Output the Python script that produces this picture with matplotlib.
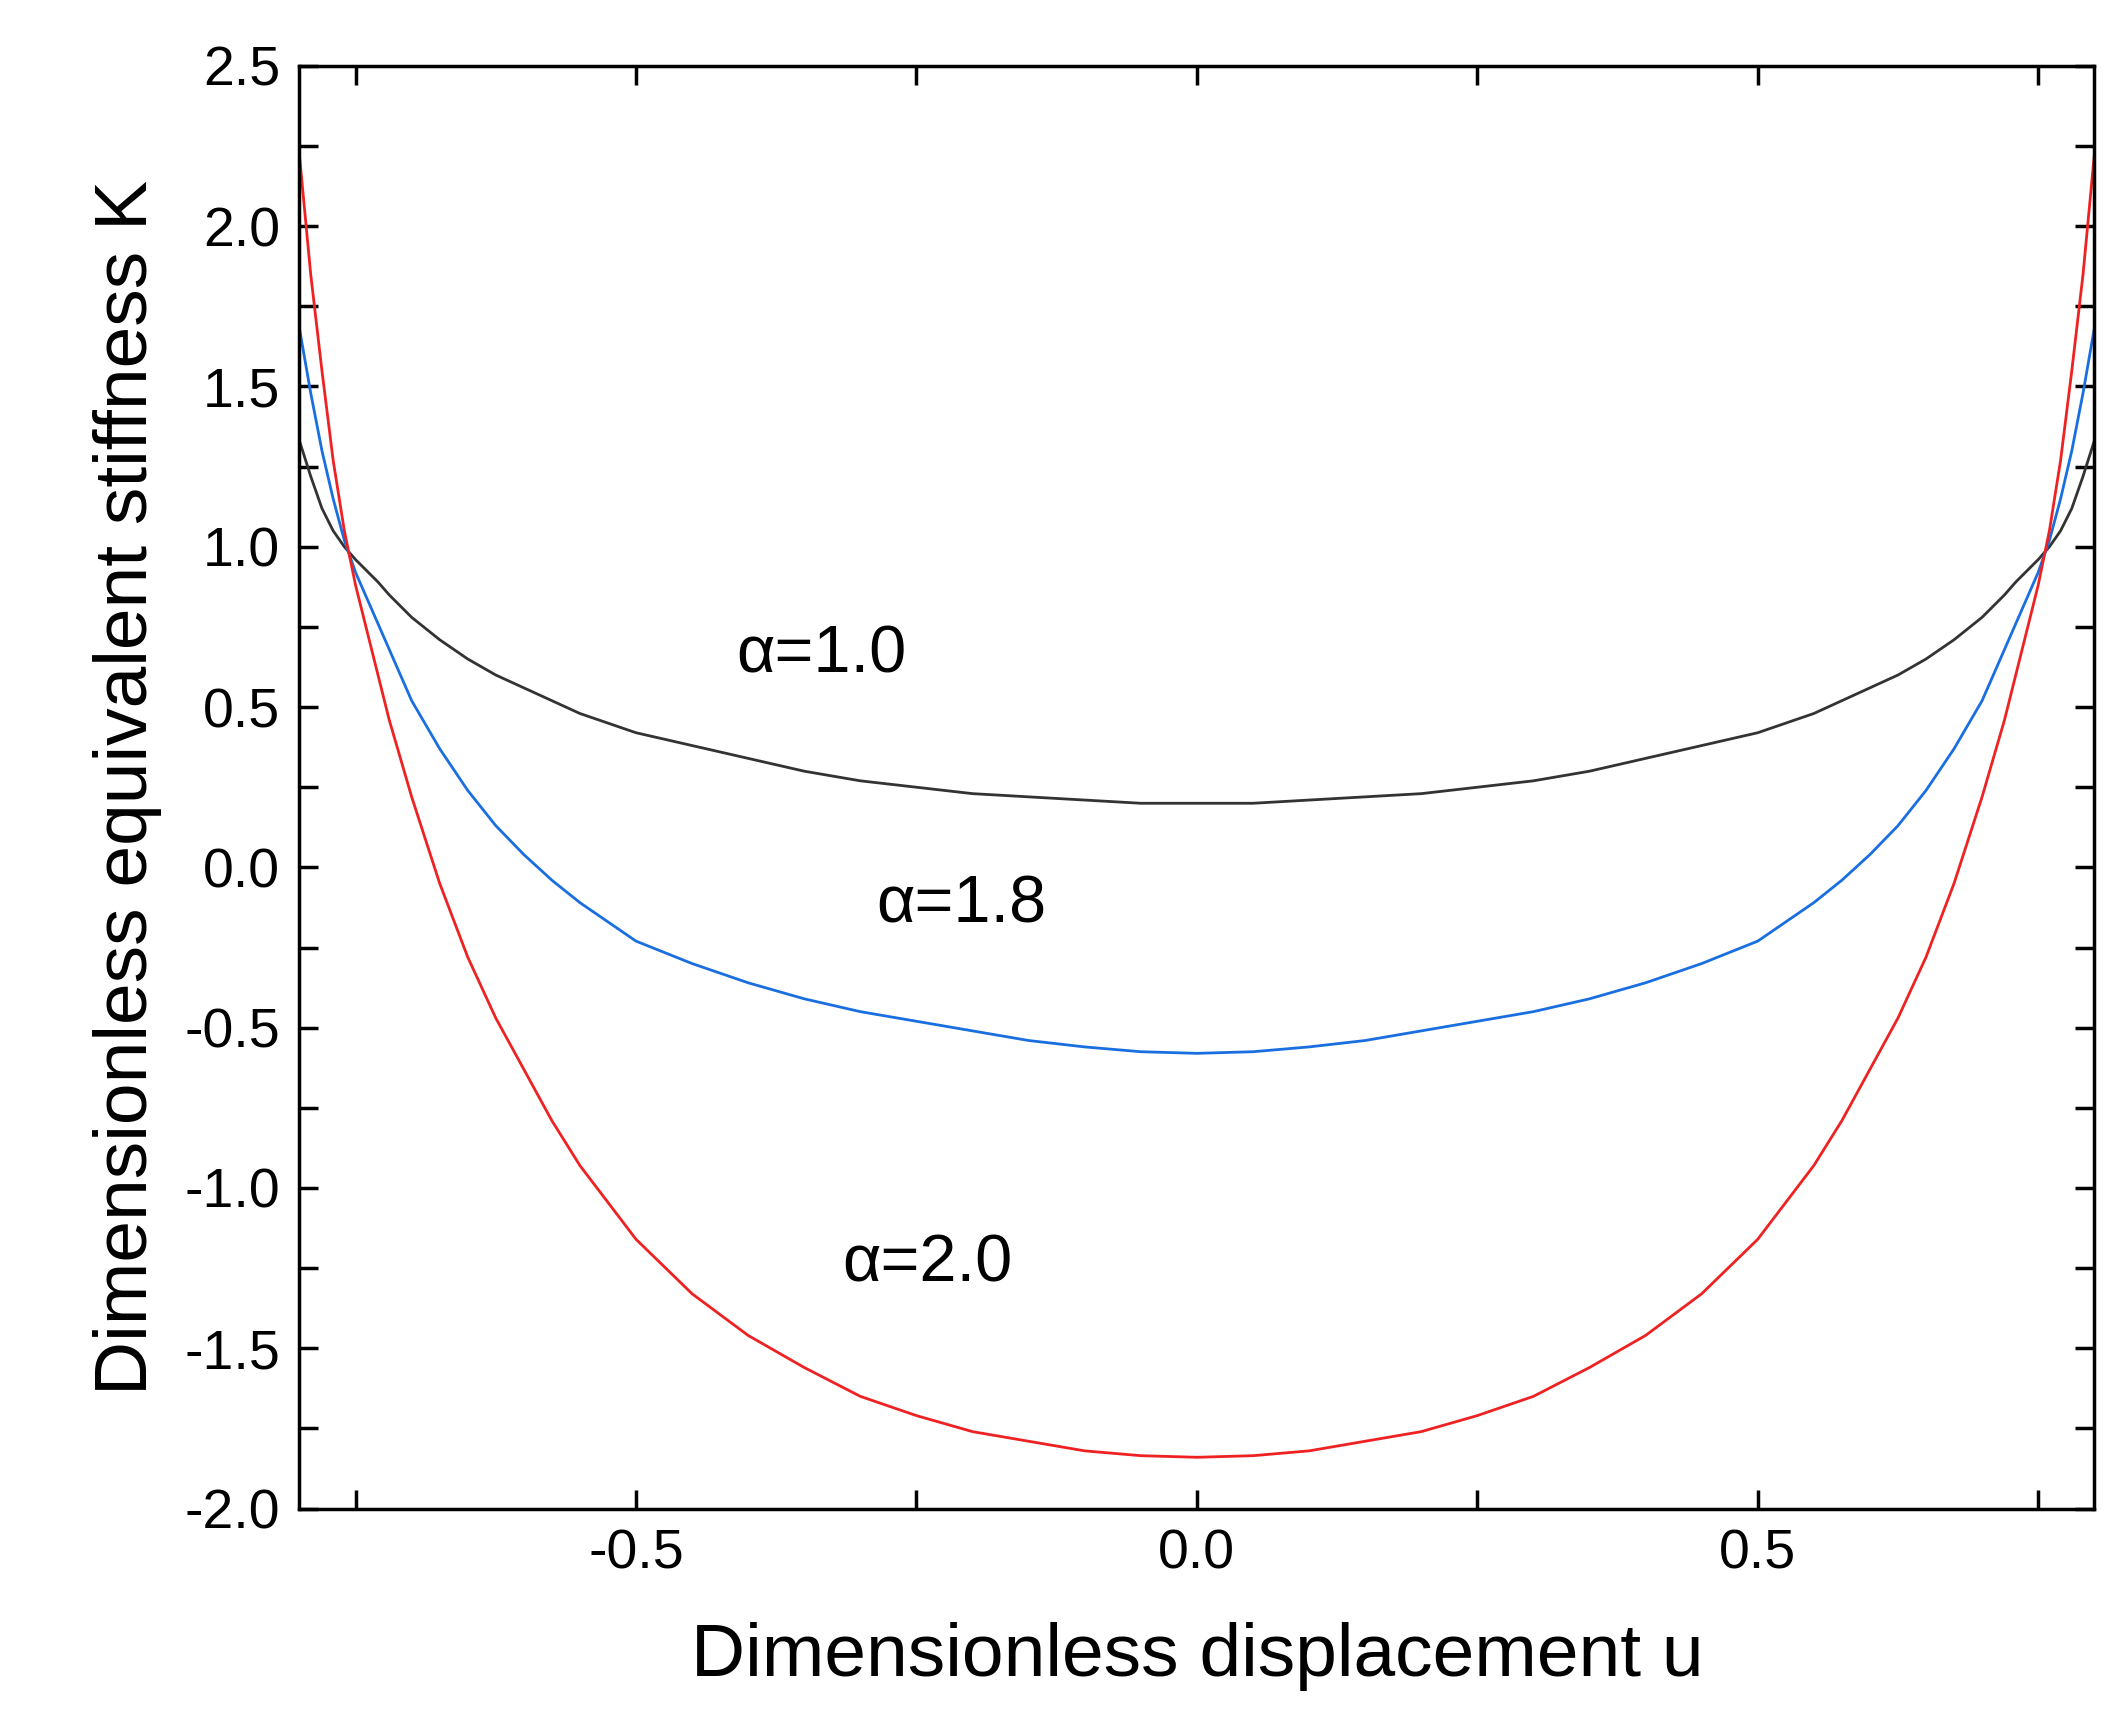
import matplotlib
matplotlib.use("Agg")
import matplotlib.pyplot as plt
from matplotlib.ticker import MultipleLocator

u_half = [-0.80, -0.79, -0.78, -0.77, -0.76, -0.75, -0.73, -0.72, -0.70, -0.675, -0.65, -0.625, -0.60, -0.575, -0.55,
          -0.50, -0.45, -0.40, -0.35, -0.30, -0.25, -0.20, -0.15, -0.10, -0.05, 0.0]
k10_half = [1.33, 1.22, 1.12, 1.05, 1.00, 0.96, 0.89, 0.85, 0.78, 0.71, 0.65, 0.60, 0.56, 0.52, 0.48,
            0.42, 0.38, 0.34, 0.30, 0.27, 0.25, 0.23, 0.22, 0.21, 0.20, 0.20]
k18_half = [1.68, 1.48, 1.30, 1.15, 1.02, 0.92, 0.76, 0.68, 0.52, 0.37, 0.24, 0.13, 0.04, -0.04, -0.11,
            -0.23, -0.30, -0.36, -0.41, -0.45, -0.48, -0.51, -0.54, -0.56, -0.575, -0.58]
k20_half = [2.22, 1.85, 1.55, 1.27, 1.05, 0.88, 0.60, 0.46, 0.22, -0.05, -0.28, -0.47, -0.63, -0.79, -0.93,
            -1.16, -1.33, -1.46, -1.56, -1.65, -1.71, -1.76, -1.79, -1.82, -1.835, -1.84]

u = u_half + [-x for x in reversed(u_half[:-1])]
k10 = k10_half + list(reversed(k10_half[:-1]))
k18 = k18_half + list(reversed(k18_half[:-1]))
k20 = k20_half + list(reversed(k20_half[:-1]))

plt.rcParams['font.family'] = ['Liberation Sans', 'DejaVu Sans']
plt.rcParams['axes.unicode_minus'] = False
fig = plt.figure(figsize=(21.24, 17.34), dpi=100)
ax = fig.add_axes([0.141, 0.130, 0.845, 0.832])
ax.plot(u, k10, color='#333333', lw=2)
ax.plot(u, k18, color='#1a6fe0', lw=2)
ax.plot(u, k20, color='#ee2222', lw=2)
ax.set_xlim(-0.8, 0.8)
ax.set_ylim(-2.0, 2.5)
ax.xaxis.set_major_locator(MultipleLocator(0.5))
ax.xaxis.set_minor_locator(MultipleLocator(0.25))
ax.yaxis.set_major_locator(MultipleLocator(0.5))
ax.yaxis.set_minor_locator(MultipleLocator(0.25))
ax.tick_params(which='both', direction='in', top=True, right=True, width=2.5)
ax.tick_params(which='major', length=14, labelsize=40, pad=14)
ax.tick_params(which='minor', length=14)
for s in ax.spines.values():
    s.set_linewidth(2.5)
ax.set_xlabel('Dimensionless displacement u', fontsize=54, labelpad=30)
ax.set_ylabel('Dimensionless equivalent stiffness K', fontsize=54, labelpad=16)
ax.text(-0.335, 0.66, 'α=1.0', fontsize=48, ha='center', va='center')
ax.text(-0.21, -0.12, 'α=1.8', fontsize=48, ha='center', va='center')
ax.text(-0.24, -1.24, 'α=2.0', fontsize=48, ha='center', va='center')
fig.savefig('out.png', dpi=100)
